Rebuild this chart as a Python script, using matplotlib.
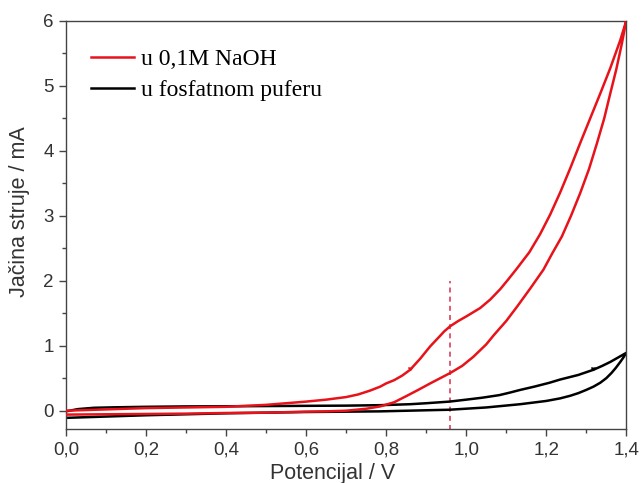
import matplotlib
matplotlib.use("Agg")
import matplotlib.pyplot as plt
from matplotlib.ticker import MultipleLocator, FuncFormatter

# NaOH curve (forward then return)
naoh_x = [0.0, 0.1, 0.2, 0.3, 0.4, 0.5, 0.6, 0.65, 0.7, 0.75, 0.785, 0.82, 0.852, 0.88,
          0.91, 0.935, 0.96, 0.99, 1.018, 1.05, 1.07, 1.1, 1.127, 1.16, 1.193, 1.215,
          1.239, 1.262, 1.285, 1.307, 1.327, 1.345, 1.36, 1.375, 1.389, 1.4,
          1.385, 1.36, 1.335, 1.31, 1.285, 1.26, 1.235, 1.21, 1.185, 1.158, 1.127,
          1.105, 1.085, 1.06, 1.035, 1.0, 0.98, 0.96, 0.945, 0.933, 0.91, 0.885, 0.86,
          0.84, 0.82, 0.8, 0.785, 0.76, 0.73, 0.7, 0.65, 0.6, 0.5, 0.4, 0.3, 0.2,
          0.1, 0.0]
naoh_y = [-0.06, -0.055, -0.05, -0.045, -0.035, -0.03, -0.015, -0.01, 0.0, 0.03, 0.066,
          0.13, 0.23, 0.32, 0.42, 0.5, 0.58, 0.69, 0.83, 1.02, 1.17, 1.38, 1.60, 1.88,
          2.17, 2.42, 2.68, 3.0, 3.35, 3.72, 4.12, 4.5, 4.88, 5.25, 5.65, 6.0,
          5.7, 5.27, 4.88, 4.5, 4.12, 3.73, 3.36, 3.02, 2.72, 2.44, 2.19, 2.02, 1.87,
          1.71, 1.58, 1.45, 1.38, 1.30, 1.22, 1.14, 0.99, 0.8, 0.63, 0.54, 0.47, 0.42,
          0.37, 0.31, 0.25, 0.21, 0.17, 0.14, 0.09, 0.06, 0.05, 0.04, 0.02, 0.0]

# Phosphate buffer curve (forward then return)
pufer_x = [0.0, 0.1, 0.2, 0.4, 0.6, 0.785, 0.958, 1.05, 1.135, 1.2, 1.235, 1.26, 1.28,
           1.3, 1.318, 1.335, 1.35, 1.363, 1.374, 1.385, 1.393, 1.4,
           1.38, 1.36, 1.34, 1.318, 1.28, 1.235, 1.208, 1.17, 1.135, 1.11, 1.083,
           1.04, 1.0, 0.958, 0.9, 0.86, 0.785, 0.7, 0.6, 0.4, 0.3, 0.2, 0.12, 0.07,
           0.03, 0.0]
pufer_y = [-0.11, -0.09, -0.07, -0.04, -0.02, -0.01, 0.015, 0.05, 0.1, 0.15, 0.19, 0.23,
           0.27, 0.32, 0.37, 0.43, 0.5, 0.58, 0.66, 0.75, 0.82, 0.89,
           0.82, 0.75, 0.69, 0.63, 0.55, 0.48, 0.43, 0.37, 0.32, 0.28, 0.24, 0.2,
           0.17, 0.14, 0.115, 0.1, 0.085, 0.078, 0.075, 0.068, 0.066, 0.06, 0.052,
           0.045, 0.025, -0.01]

# small scan-direction marks on the curves
mark_x = [0.86, 1.318]
mark_y = [0.63, 0.63]
mark_colors = ["#e8121a", "black"]

dash_x = 0.96
dash_top = 2.0

labels = ["u 0,1M NaOH", "u fosfatnom puferu"]

fig = plt.figure(figsize=(6.41, 4.83), dpi=100)
ax = fig.add_axes([0.103, 0.112, 0.874, 0.845])

ax.plot([dash_x, dash_x], [-0.3, dash_top], color="#d8405e", lw=1.2,
        ls=(0, (3, 2.5)), zorder=1)
ax.plot(naoh_x, naoh_y, color="#e8121a", lw=1.8, label=labels[0], zorder=3,
        solid_joinstyle="round")
ax.plot(pufer_x, pufer_y, color="black", lw=1.8, label=labels[1], zorder=2,
        solid_joinstyle="round")
for mx, my, mc in zip(mark_x, mark_y, mark_colors):
    ax.plot([mx], [my], marker=7, ms=3, color=mc, zorder=4)

ax.set_xlim(0, 1.4)
ax.set_ylim(-0.28, 6)
ax.xaxis.set_major_locator(MultipleLocator(0.2))
ax.xaxis.set_minor_locator(MultipleLocator(0.1))
ax.yaxis.set_major_locator(MultipleLocator(1))
ax.yaxis.set_minor_locator(MultipleLocator(0.5))
ax.xaxis.set_major_formatter(FuncFormatter(lambda v, p: f"{v:.1f}".replace(".", ",")))
ax.yaxis.set_major_formatter(FuncFormatter(lambda v, p: f"{v:.0f}"))

for s in ax.spines.values():
    s.set_color("#444444")
    s.set_linewidth(1.0)
ax.tick_params(which="major", direction="out", length=5, width=1, color="#444444",
               labelsize=13.5, labelcolor="#333333", pad=4)
ax.tick_params(which="minor", direction="out", length=3, width=1, color="#444444")
for t in ax.get_xticklabels() + ax.get_yticklabels():
    t.set_fontfamily("Liberation Sans")

ax.set_xlabel("Potencijal / V", fontsize=15.5, family="Liberation Sans", color="#333333")
ax.xaxis.set_label_coords(0.475, -0.083)
ax.set_ylabel("Jačina struje / mA", fontsize=15.5, family="Liberation Sans",
              color="#333333")
ax.yaxis.set_label_coords(-0.064, 0.532)

leg = ax.legend(loc="upper left", bbox_to_anchor=(0.0446, 0.932), frameon=False,
                prop={"family": "Liberation Serif", "size": 17},
                handlelength=1.8, handletextpad=0.3, labelspacing=0.4,
                borderaxespad=0.0, borderpad=0.0)

fig.savefig("out.png", dpi=100)
